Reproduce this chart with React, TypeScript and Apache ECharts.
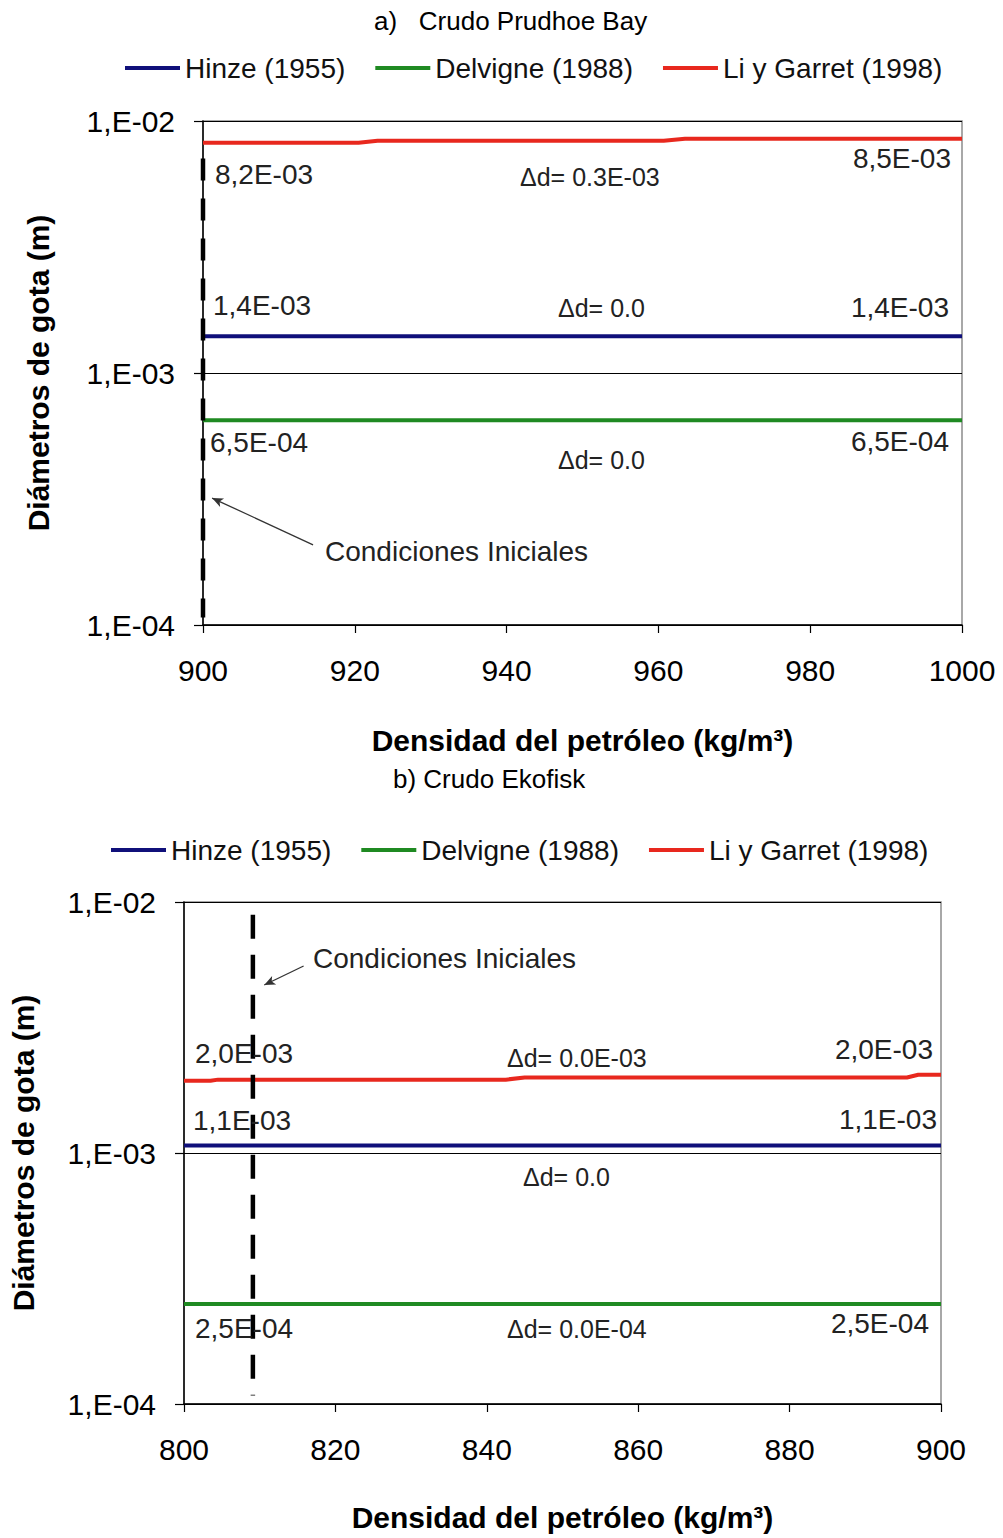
import React, { useEffect, useRef } from "react";
import * as echarts from "echarts";

// ---- data ----
const seriesNames = ["Hinze (1955)", "Delvigne (1988)", "Li y Garret (1998)"];
const seriesColors = ["#10107a", "#1f8a22", "#e8281e"];

// Chart a) Crudo Prudhoe Bay
const aTitle = "a)   Crudo Prudhoe Bay";
const aHinze: [number, number][] = [[900, 1.4e-3], [1000, 1.4e-3]];
const aDelvigne: [number, number][] = [[900, 6.5e-4], [1000, 6.5e-4]];
const aLi: [number, number][] = [
  [900, 8.2e-3], [920.5, 8.2e-3], [923, 8.35e-3], [960.7, 8.35e-3], [963.5, 8.5e-3], [1000, 8.5e-3],
];
const aInitial: [number, number][] = [[900, 7.1e-3], [900, 1.07e-4]];
const aArrow: [number, number][] = [[914.5, 2.08e-4], [901.2, 3.19e-4]];

// Chart b) Crudo Ekofisk
const bTitle = "b) Crudo Ekofisk";
const bHinze: [number, number][] = [[800, 1.07e-3], [900, 1.07e-3]];
const bDelvigne: [number, number][] = [[800, 2.5e-4], [900, 2.5e-4]];
const bLi: [number, number][] = [
  [800, 1.94e-3], [803.5, 1.94e-3], [804.5, 1.96e-3], [842.5, 1.96e-3], [845, 2.0e-3],
  [895.5, 2.0e-3], [897, 2.05e-3], [900, 2.05e-3],
];
const bInitial: [number, number][] = [[809.1, 8.9e-3], [809.1, 1.08e-4]];
const bArrow: [number, number][] = [[815.8, 5.56e-3], [810.6, 4.67e-3]];

const xTicksA = { min: 900, max: 1000, interval: 20 };
const xTicksB = { min: 800, max: 900, interval: 20 };
const yRange = { min: 1e-4, max: 1e-2 };

const xName = "Densidad del petróleo (kg/m³)";
const yName = "Diámetros de gota (m)";

// annotation texts: [text, x, y, align, size]
const aNotes: [string, number, number, string, number][] = [
  ["8,2E-03", 215, 174, "left", 28],
  ["Δd= 0.3E-03", 520, 177, "left", 25],
  ["8,5E-03", 951, 158, "right", 28],
  ["1,4E-03", 213, 305, "left", 28],
  ["Δd= 0.0", 558, 308, "left", 25],
  ["1,4E-03", 949, 307, "right", 28],
  ["6,5E-04", 210, 442, "left", 28],
  ["Δd= 0.0", 558, 460, "left", 25],
  ["6,5E-04", 949, 441, "right", 28],
  ["Condiciones Iniciales", 325, 551, "left", 28],
];
const bNotes: [string, number, number, string, number][] = [
  ["Condiciones Iniciales", 313, 958, "left", 28],
  ["2,0E-03", 195, 1053, "left", 28],
  ["Δd= 0.0E-03", 507, 1058, "left", 25],
  ["2,0E-03", 933, 1049, "right", 28],
  ["1,1E-03", 193, 1120, "left", 28],
  ["1,1E-03", 937, 1119, "right", 28],
  ["Δd= 0.0", 523, 1177, "left", 25],
  ["2,5E-04", 195, 1328, "left", 28],
  ["Δd= 0.0E-04", 507, 1329, "left", 25],
  ["2,5E-04", 929, 1323, "right", 28],
];

const FONT = "'Liberation Sans', Arial, sans-serif";

function fmtLog(v: number) {
  const e = Math.round(Math.log10(v));
  return "1,E-" + String(-e).padStart(2, "0");
}

export default function App() {
  const ref = useRef<HTMLDivElement>(null);
  useEffect(() => {
    document.body.style.margin = "0";
    const chart = echarts.init(ref.current!, undefined, { renderer: "svg" });

    const makeX = (gi: number, t: { min: number; max: number; interval: number }, gap: number) => ({
      type: "value",
      gridIndex: gi,
      min: t.min,
      max: t.max,
      interval: t.interval,
      name: xName,
      nameLocation: "middle",
      nameGap: gap,
      nameTextStyle: { fontFamily: FONT, fontSize: 30, fontWeight: "bold", color: "#000" },
      axisLine: { show: true, lineStyle: { color: "#000", width: 1.5 } },
      axisTick: { show: true, inside: false, length: 8, lineStyle: { color: "#000", width: 1.2 } },
      axisLabel: { fontFamily: FONT, fontSize: 30, color: "#000", margin: 30, formatter: (v: number) => String(v) },
      splitLine: { show: false },
    });
    const makeY = (gi: number, gap: number) => ({
      type: "log",
      logBase: 10,
      gridIndex: gi,
      min: yRange.min,
      max: yRange.max,
      name: yName,
      nameLocation: "middle",
      nameGap: gap,
      nameRotate: 90,
      nameTextStyle: { fontFamily: FONT, fontSize: 30, fontWeight: "bold", color: "#000" },
      axisLine: { show: true, lineStyle: { color: "#000", width: 1.5 } },
      axisTick: { show: true, inside: false, length: 9, lineStyle: { color: "#000", width: 1.2 } },
      axisLabel: { fontFamily: FONT, fontSize: 30, color: "#000", margin: 28, formatter: fmtLog },
      splitLine: { show: true, lineStyle: { color: ["#000", "#000", "#8c8c8c"], width: 1 } },
      minorTick: { show: false },
      minorSplitLine: { show: false },
    });

    const lineSeries = (name: string, color: string, data: [number, number][], gi: number) => ({
      type: "line",
      name,
      xAxisIndex: gi,
      yAxisIndex: gi,
      data,
      showSymbol: false,
      symbol: "none",
      lineStyle: { color, width: 4 },
      itemStyle: { color },
      z: 3,
    });
    const dashSeries = (data: [number, number][], arrow: [number, number][], gi: number, dash: number[]) => ({
      type: "line",
      xAxisIndex: gi,
      yAxisIndex: gi,
      data,
      symbol: "none",
      silent: true,
      lineStyle: { color: "#000", width: 4.5, type: dash },
      z: 4,
      markLine: {
        silent: true,
        symbol: ["none", "arrow"],
        symbolSize: [7, 11],
        label: { show: false },
        lineStyle: { color: "#333", width: 1.3, type: "solid" },
        data: [[{ coord: arrow[0] }, { coord: arrow[1] }]],
      },
    });

    const legendCommon = {
      orient: "horizontal",
      icon: "rect",
      itemWidth: 55,
      itemHeight: 4,
      itemGap: 30,
      textStyle: { fontFamily: FONT, fontSize: 28, color: "#111" },
      data: seriesNames,
    };

    const noteEls = [...aNotes, ...bNotes].map(([text, x, y, align, size]) => ({
      type: "text",
      x,
      y,
      z: 10,
      style: {
        text,
        fill: "#222",
        font: `${size}px ${FONT}`,
        fontSize: size,
        fontFamily: FONT,
        align,
        textAlign: align,
        verticalAlign: "middle",
        textVerticalAlign: "middle",
      },
    }));

    chart.setOption({
      animation: false,
      backgroundColor: "#fff",
      title: [
        { text: aTitle, left: 369, top: 3, textStyle: { fontFamily: FONT, fontSize: 26, fontWeight: "normal", color: "#000" } },
        { text: bTitle, left: 388, top: 761, textStyle: { fontFamily: FONT, fontSize: 26, fontWeight: "normal", color: "#000" } },
      ],
      legend: [
        { ...legendCommon, left: 120, top: 49 },
        { ...legendCommon, left: 106, top: 831 },
      ],
      grid: [
        { left: 203, top: 121, width: 759, height: 504, show: true, borderColor: "#8c8c8c", borderWidth: 1.5, backgroundColor: "transparent" },
        { left: 183, top: 902, width: 758, height: 502, show: true, borderColor: "#8c8c8c", borderWidth: 1.5, backgroundColor: "transparent" },
      ],
      xAxis: [makeX(0, xTicksA, 100), makeX(1, xTicksB, 98)],
      yAxis: [makeY(0, 150), makeY(1, 146)],
      series: [
        lineSeries(seriesNames[0], seriesColors[0], aHinze, 0),
        lineSeries(seriesNames[1], seriesColors[1], aDelvigne, 0),
        lineSeries(seriesNames[2], seriesColors[2], aLi, 0),
        dashSeries(aInitial, aArrow, 0, [22, 18]),
        lineSeries(seriesNames[0], seriesColors[0], bHinze, 1),
        lineSeries(seriesNames[1], seriesColors[1], bDelvigne, 1),
        lineSeries(seriesNames[2], seriesColors[2], bLi, 1),
        dashSeries(bInitial, bArrow, 1, [24, 16]),
      ],
      graphic: noteEls,
    });
    return () => chart.dispose();
  }, []);
  return <div ref={ref} style={{ width: 1003, height: 1538 }} />;
}
